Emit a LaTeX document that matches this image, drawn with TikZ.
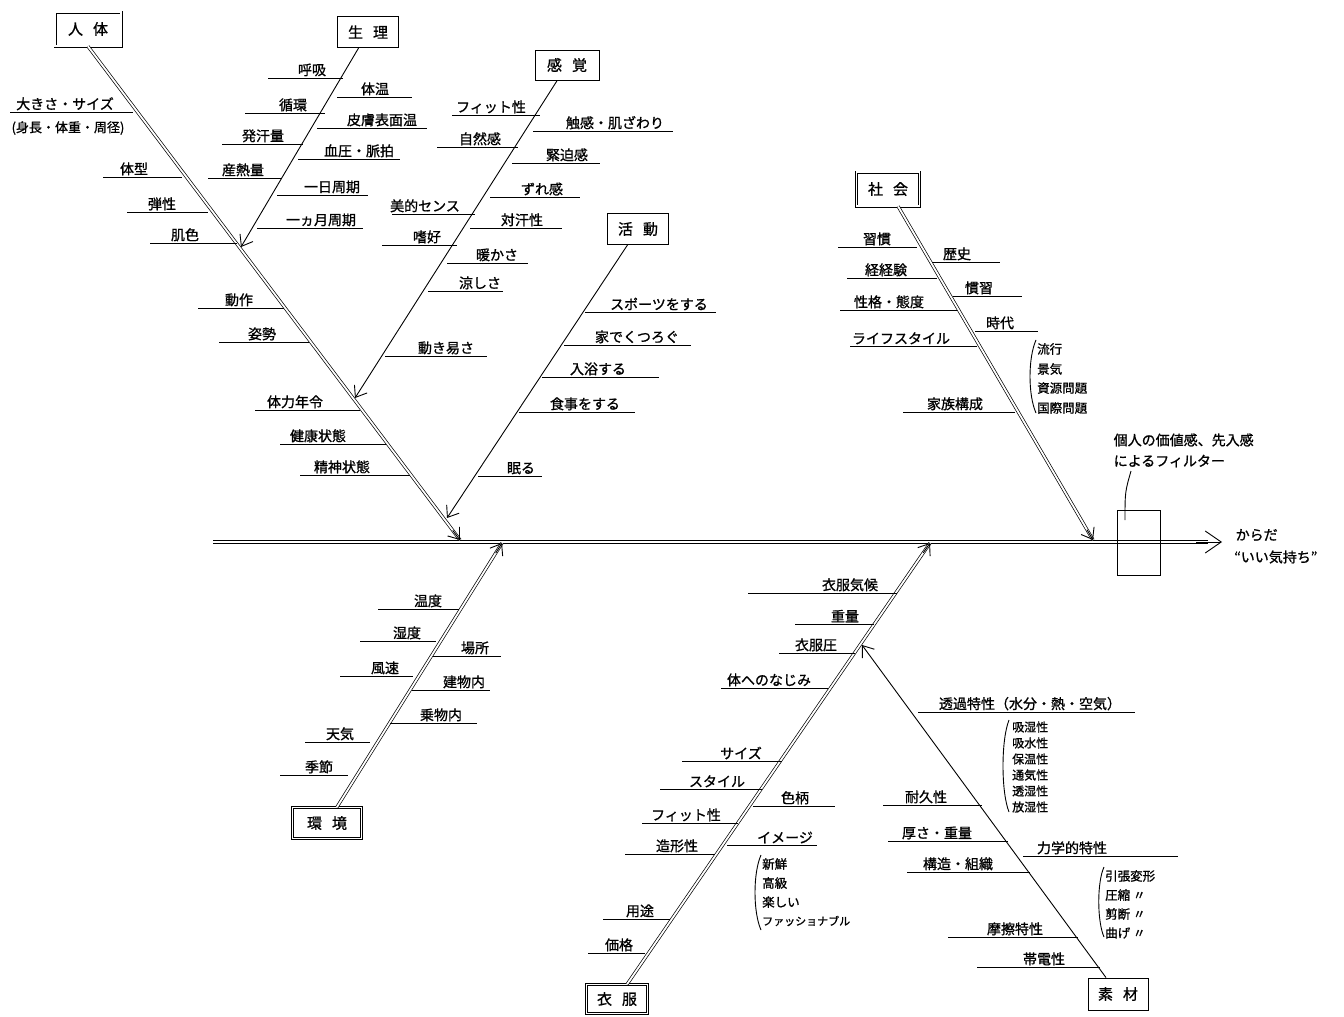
\documentclass[tikz,border=0pt]{standalone}
\usepackage{fontspec}
\setmainfont{Noto Sans CJK JP}[FakeBold=1]
\usetikzlibrary{arrows.meta,calc}
\begin{document}
\begin{tikzpicture}[x=1pt,y=-1pt,
  lbl/.style={anchor=south, inner sep=1.5pt, font=\fontsize{14}{14}\selectfont},
  lst/.style={anchor=west, inner sep=0pt, font=\fontsize{12.5}{12.5}\selectfont},
  cat/.style={draw, line width=0.9pt, inner sep=0pt, font=\fontsize{15}{15}\selectfont},
  catd/.style={cat, double, double distance=1.6pt, line width=0.7pt},
  bone/.style={line width=0.9pt},
  dbone/.style={line width=0.7pt, double, double distance=1.8pt},
  tip/.style={line width=0.9pt, -{Straight Barb[length=10pt,width=15pt]}},
]
\useasboundingbox (0,0) rectangle (1344,1017);
% spine
\coordinate (tail) at (213,542);
\coordinate (head) at (1222,542);
\draw[dbone] (tail) -- (1208,542);
\draw[line width=0.9pt, -{Straight Barb[length=16pt,width=22pt]}] (1196,542) -- (head);
\node[draw, line width=0.9pt, minimum width=43pt, minimum height=65pt, inner sep=0pt] (filter) at (1138.5,542.5) {};
\node[lbl, anchor=west] (note1) at (1112,440) {個人の価値感、先入感};
\node[lbl, anchor=west] (note2) at (1112,461) {によるフィルター};
\coordinate (pin) at (1131,471);
\draw[bone] (pin) .. controls (1125,492) .. (1125,520);
\node[lbl, anchor=west] (goal1) at (1234,535) {からだ};
\node[lbl, anchor=west, inner sep=0pt] (goal2) at (1234,557) {“いい気持ち”};

% categories
\node[catd, minimum width=66pt, minimum height=34pt] (body) at (88,29) {人\hspace{10pt}体};
\node[cat, minimum width=61pt, minimum height=31pt] (physio) at (368,32) {生\hspace{10pt}理};
\node[cat, minimum width=64pt, minimum height=30pt] (sense) at (567,65) {感\hspace{10pt}覚};
\node[cat, minimum width=61pt, minimum height=31pt] (activity) at (638,229) {活\hspace{10pt}動};
\node[catd, minimum width=63pt, minimum height=34pt] (society) at (888,189) {社\hspace{10pt}会};
\node[catd, minimum width=69pt, minimum height=31pt] (environ) at (327,823) {環\hspace{10pt}境};
\node[catd, minimum width=61pt, minimum height=29pt] (clothing) at (617,999) {衣\hspace{10pt}服};
\node[cat, minimum width=60pt, minimum height=32pt] (material) at (1118,994) {素\hspace{10pt}材};

\coordinate (bodyend) at (460,540);
\coordinate (physioend) at (241,247);
\coordinate (senseend) at (355,398);
\coordinate (activityend) at (447,518);
\coordinate (societyend) at (1093,540);
\coordinate (environend) at (502,543);
\coordinate (clothingend) at (930,543);
\coordinate (materialend) at (862,645);

\draw[dbone] (body.south) -- (bodyend);
\draw[tip] ($(bodyend)!12pt!(body.south)$) -- (bodyend);
\draw[tip] (physio) -- (physioend);
\draw[tip] (sense) -- (senseend);
\draw[tip] (activity) -- (activityend);
\draw[dbone] (society) -- (societyend);
\draw[tip] ($(societyend)!12pt!(society)$) -- (societyend);
\draw[dbone] (environ) -- (environend);
\draw[tip] ($(environend)!12pt!(environ)$) -- (environend);
\draw[dbone] (clothing) -- (clothingend);
\draw[tip] ($(clothingend)!12pt!(clothing)$) -- (clothingend);
\draw[tip] (material) -- (materialend);

% body
\draw[bone] (10,112) -- (133,112); \node[lbl] (bo1) at (65,112) {大きさ・サイズ};
\node[lbl, anchor=center, font=\fontsize{13}{13}\selectfont] (bo1b) at (68,128) {(身長・体重・周径)};
\draw[bone] (103,177) -- (182,177); \node[lbl] (bo2) at (134,177) {体型};
\draw[bone] (127,212) -- (208,212); \node[lbl] (bo3) at (162,212) {弾性};
\draw[bone] (150,243) -- (237,243); \node[lbl] (bo4) at (185,243) {肌色};
\draw[bone] (198,308) -- (284,308); \node[lbl] (bo5) at (239,308) {動作};
\draw[bone] (219,342) -- (309,342); \node[lbl] (bo6) at (262,342) {姿勢};
\draw[bone] (255,410) -- (360,410); \node[lbl] (bo7) at (295,410) {体力年令};
\draw[bone] (280,444) -- (386,444); \node[lbl] (bo8) at (318,444) {健康状態};
\draw[bone] (300,475) -- (410,475); \node[lbl] (bo9) at (342,475) {精神状態};

% physio
\draw[bone] (268,78) -- (343,78); \node[lbl] (ph1) at (312,78) {呼吸};
\draw[bone] (337,97) -- (412,97); \node[lbl] (ph2) at (375,97) {体温};
\draw[bone] (245,113) -- (325,113); \node[lbl] (ph3) at (293,113) {循環};
\draw[bone] (317,128) -- (427,128); \node[lbl] (ph4) at (382,128) {皮膚表面温};
\draw[bone] (222,144) -- (303,144); \node[lbl] (ph5) at (263,144) {発汗量};
\draw[bone] (298,159) -- (400,159); \node[lbl] (ph6) at (359,159) {血圧・脈拍};
\draw[bone] (208,178) -- (282,178); \node[lbl] (ph7) at (243,178) {産熱量};
\draw[bone] (277,195) -- (368,195); \node[lbl] (ph8) at (332,195) {一日周期};
\draw[bone] (257,228) -- (363,228); \node[lbl] (ph9) at (321,228) {一ヵ月周期};

% sense
\draw[bone] (452,115) -- (540,115); \node[lbl] (se1) at (491,115) {フィット性};
\draw[bone] (533,131) -- (673,131); \node[lbl] (se2) at (615,131) {触感・肌ざわり};
\draw[bone] (437,147) -- (518,147); \node[lbl] (se3) at (480,147) {自然感};
\draw[bone] (512,163) -- (600,163); \node[lbl] (se4) at (567,163) {緊迫感};
\draw[bone] (490,197) -- (580,197); \node[lbl] (se5) at (542,197) {ずれ感};
\draw[bone] (392,214) -- (475,214); \node[lbl] (se6) at (425,214) {美的センス};
\draw[bone] (470,228) -- (562,228); \node[lbl] (se7) at (522,228) {対汗性};
\draw[bone] (382,245) -- (457,245); \node[lbl] (se8) at (427,245) {嗜好};
\draw[bone] (447,263) -- (528,263); \node[lbl] (se9) at (497,263) {暖かさ};
\draw[bone] (428,291) -- (503,291); \node[lbl] (se10) at (480,291) {涼しさ};
\draw[bone] (385,356) -- (487,356); \node[lbl] (se11) at (446,356) {動き易さ};

% activity
\draw[bone] (585,312) -- (716,312); \node[lbl] (ac1) at (659,312) {スポーツをする};
\draw[bone] (564,345) -- (691,345); \node[lbl] (ac2) at (637,345) {家でくつろぐ};
\draw[bone] (542,377) -- (659,377); \node[lbl] (ac3) at (598,377) {入浴する};
\draw[bone] (519,412) -- (635,412); \node[lbl] (ac4) at (585,412) {食事をする};
\draw[bone] (478,476) -- (542,476); \node[lbl] (ac5) at (521,476) {眠る};

% society
\draw[bone] (838,247) -- (917,247); \node[lbl] (so1) at (877,247) {習慣};
\draw[bone] (932,262) -- (1000,262); \node[lbl] (so2) at (957,262) {歴史};
\draw[bone] (847,278) -- (937,278); \node[lbl] (so3) at (886,278) {経経験};
\draw[bone] (953,296) -- (1022,296); \node[lbl] (so4) at (979,296) {慣習};
\draw[bone] (840,310) -- (957,310); \node[lbl] (so5) at (889,310) {性格・態度};
\draw[bone] (975,331) -- (1038,331); \node[lbl] (so6) at (1000,331) {時代};
\draw[bone] (850,346) -- (977,346); \node[lbl] (so7) at (901,346) {ライフスタイル};
\draw[bone] (903,412) -- (1015,412); \node[lbl] (so8) at (955,412) {家族構成};
\draw[bone] (1036,340) .. controls (1028,358) and (1028,395) .. (1036,413);
\node[lst] (so9) at (1037,349) {流行};
\node[lst] (so10) at (1037,369) {景気};
\node[lst] (so11) at (1037,388) {資源問題};
\node[lst] (so12) at (1037,408) {国際問題};

% environ
\draw[bone] (378,609) -- (459,609); \node[lbl] (en1) at (428,609) {温度};
\draw[bone] (360,641) -- (436,641); \node[lbl] (en2) at (407,641) {湿度};
\draw[bone] (433,656) -- (501,656); \node[lbl] (en3) at (475,656) {場所};
\draw[bone] (340,676) -- (413,676); \node[lbl] (en4) at (385,676) {風速};
\draw[bone] (412,690) -- (490,690); \node[lbl] (en5) at (464,690) {建物内};
\draw[bone] (390,723) -- (477,723); \node[lbl] (en6) at (441,723) {乗物内};
\draw[bone] (305,742) -- (370,742); \node[lbl] (en7) at (340,742) {天気};
\draw[bone] (280,775) -- (348,775); \node[lbl] (en8) at (319,775) {季節};

% clothing
\draw[bone] (748,593) -- (897,593); \node[lbl] (cl1) at (850,593) {衣服気候};
\draw[bone] (795,624) -- (874,624); \node[lbl] (cl2) at (845,624) {重量};
\draw[bone] (779,653) -- (855,653); \node[lbl] (cl3) at (816,653) {衣服圧};
\draw[bone] (721,688) -- (828,688); \node[lbl] (cl4) at (769,688) {体へのなじみ};
\draw[bone] (682,761) -- (782,761); \node[lbl] (cl5) at (741,761) {サイズ};
\draw[bone] (660,789) -- (762,789); \node[lbl] (cl6) at (717,789) {スタイル};
\draw[bone] (753,806) -- (835,806); \node[lbl] (cl7) at (795,806) {色柄};
\draw[bone] (642,823) -- (738,823); \node[lbl] (cl8) at (686,823) {フィット性};
\draw[bone] (625,854) -- (715,854); \node[lbl] (cl9) at (677,854) {造形性};
\draw[bone] (727,845) -- (817,845); \node[lbl] (cl10) at (785,845) {イメージ};
\draw[bone] (603,919) -- (670,919); \node[lbl] (cl11) at (640,919) {用途};
\draw[bone] (588,953) -- (645,953); \node[lbl] (cl12) at (619,953) {価格};
\draw[bone] (761,855) .. controls (753,873) and (753,912) .. (761,930);
\node[lst] (cl13) at (762,864) {新鮮};
\node[lst] (cl14) at (762,883) {高級};
\node[lst] (cl15) at (762,902) {楽しい};
\node[lst, font=\fontsize{11}{11}\selectfont] (cl16) at (762,921) {ファッショナブル};

% material
\draw[bone] (918,712) -- (1135,712); \node[lbl] (ma1) at (1030,712) {透過特性（水分・熱・空気）};
\draw[bone] (883,805) -- (982,805); \node[lbl] (ma2) at (926,805) {耐久性};
\draw[bone] (888,841) -- (1008,841); \node[lbl] (ma3) at (937,841) {厚さ・重量};
\draw[bone] (1023,856) -- (1178,856); \node[lbl] (ma4) at (1072,856) {力学的特性};
\draw[bone] (907,872) -- (1030,872); \node[lbl] (ma5) at (958,872) {構造・組織};
\draw[bone] (948,937) -- (1078,937); \node[lbl] (ma6) at (1015,937) {摩擦特性};
\draw[bone] (977,967) -- (1100,967); \node[lbl] (ma7) at (1044,967) {帯電性};
\draw[bone] (1009,720) .. controls (1001,740) and (1001,792) .. (1009,812);
\node[lst, font=\fontsize{12}{12}\selectfont] (ma8) at (1012,727) {吸湿性};
\node[lst, font=\fontsize{12}{12}\selectfont] (ma9) at (1012,743) {吸水性};
\node[lst, font=\fontsize{12}{12}\selectfont] (ma10) at (1012,759) {保温性};
\node[lst, font=\fontsize{12}{12}\selectfont] (ma11) at (1012,775) {通気性};
\node[lst, font=\fontsize{12}{12}\selectfont] (ma12) at (1012,791) {透湿性};
\node[lst, font=\fontsize{12}{12}\selectfont] (ma13) at (1012,807) {放湿性};
\draw[bone] (1104,867) .. controls (1097,882) and (1097,921) .. (1104,937);
\node[lst] (ma14) at (1105,876) {引張変形};
\node[lst] (ma15) at (1105,895) {圧縮 〃};
\node[lst] (ma16) at (1105,914) {剪断 〃};
\node[lst] (ma17) at (1105,933) {曲げ 〃};
\end{tikzpicture}
\end{document}
